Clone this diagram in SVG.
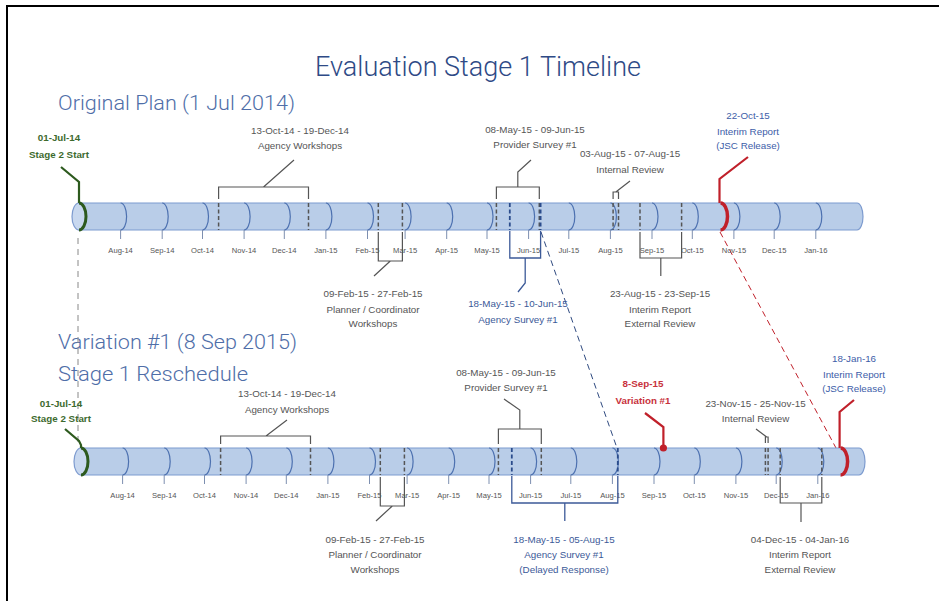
<svg xmlns="http://www.w3.org/2000/svg" width="939" height="601" viewBox="0 0 939 601">
<defs>
<style>
.bar{fill:#b9cde8;stroke:#7d9bcf;stroke-width:1.2}
.cap{fill:#c8d8ef;stroke:#7d9bcf;stroke-width:1.2}
.arc{fill:none;stroke:#4d71b0;stroke-width:1.2}
.tick{stroke:#7d8fb0;stroke-width:1}
.mon{font-family:"Liberation Sans",Arial,sans-serif;font-size:7.6px;fill:#555;text-anchor:middle}
.lbl{font-family:"Liberation Sans",Arial,sans-serif;font-size:9.8px;fill:#555;text-anchor:middle}
.blue{fill:#3c5a98}
.jsc{fill:#3d5da8}
.red{fill:#c8323c;font-weight:bold}
.grn{fill:#3d6a2e;font-weight:bold}
.dg{stroke:#555;stroke-width:1.5;stroke-dasharray:4,2.5;fill:none}
.db{stroke:#2b4c8c;stroke-width:1.8;stroke-dasharray:4,2.5;fill:none}
.br{fill:none;stroke:#555;stroke-width:1.2}
.brb{fill:none;stroke:#3c5a98;stroke-width:1.3}
.rl{fill:none;stroke:#c0202a;stroke-width:2.2}
.ra{fill:none;stroke:#c0202a;stroke-width:3.5}
.gl{fill:none;stroke:#2d5a1e;stroke-width:2.2}
.ga{fill:none;stroke:#2d5a1e;stroke-width:3}
.title{font-family:Roboto,"Liberation Sans",Arial,sans-serif;font-weight:300;fill:#2e4a86}
.sub{font-family:Roboto,"Liberation Sans",Arial,sans-serif;font-weight:300;fill:#4f6ea8}
</style>
</defs>
<rect width="939" height="601" fill="#fff"/>
<g id="frame" stroke="#000" stroke-width="2" fill="none">
<path d="M6,6 H939"/><path d="M7,6 V601"/>
</g>
<g id="titles">
<text class="title" x="478" y="76" font-size="28" text-anchor="middle" textLength="326" lengthAdjust="spacingAndGlyphs">Evaluation Stage 1 Timeline</text>
<text class="sub" x="58" y="110" font-size="21" textLength="237" lengthAdjust="spacingAndGlyphs">Original Plan (1 Jul 2014)</text>
<text class="sub" x="58" y="349" font-size="21" textLength="239" lengthAdjust="spacingAndGlyphs">Variation #1 (8 Sep 2015)</text>
<text class="sub" x="58" y="381" font-size="21" textLength="190" lengthAdjust="spacingAndGlyphs">Stage 1 Reschedule</text>
</g>
<g id="connectors">
<path d="M78,238 V446" stroke="#888" stroke-width="1" stroke-dasharray="6,5" fill="none"/>
<path d="M541,232 L617,448" stroke="#2f4a80" stroke-width="1" stroke-dasharray="6,4" fill="none"/>
<path d="M720,232 L836,448" stroke="#c0202a" stroke-width="1" stroke-dasharray="6,4" fill="none"/>
</g>
<g id="timeline-original">
<path class="bar" d="M79,203 H857 A6,13.5 0 0 1 857,230 H79 Z"/>
<g class="arc">
<path d="M120.6,203 A6,13.5 0 0 1 120.6,230"/><path d="M162.2,203 A6,13.5 0 0 1 162.2,230"/><path d="M202.5,203 A6,13.5 0 0 1 202.5,230"/><path d="M244.1,203 A6,13.5 0 0 1 244.1,230"/><path d="M284.3,203 A6,13.5 0 0 1 284.3,230"/><path d="M325.9,203 A6,13.5 0 0 1 325.9,230"/><path d="M367.5,203 A6,13.5 0 0 1 367.5,230"/><path d="M405.1,203 A6,13.5 0 0 1 405.1,230"/><path d="M446.7,203 A6,13.5 0 0 1 446.7,230"/><path d="M487,203 A6,13.5 0 0 1 487,230"/><path d="M528.6,203 A6,13.5 0 0 1 528.6,230"/><path d="M568.8,203 A6,13.5 0 0 1 568.8,230"/><path d="M610.4,203 A6,13.5 0 0 1 610.4,230"/><path d="M652,203 A6,13.5 0 0 1 652,230"/><path d="M692.3,203 A6,13.5 0 0 1 692.3,230"/><path d="M733.9,203 A6,13.5 0 0 1 733.9,230"/><path d="M774.2,203 A6,13.5 0 0 1 774.2,230"/><path d="M815.8,203 A6,13.5 0 0 1 815.8,230"/>
</g>
<ellipse class="cap" cx="79" cy="216.5" rx="7" ry="13.5"/>
<g class="tick">
<path d="M120.6,230V239M162.2,230V239M202.5,230V239M244.1,230V239M284.3,230V239M325.9,230V239M367.5,230V239M405.1,230V239M446.7,230V239M487,230V239M528.6,230V239M568.8,230V239M610.4,230V239M652,230V239M692.3,230V239M733.9,230V239M774.2,230V239M815.8,230V239"/>
</g>
<g class="mon">
<text x="120.6" y="253">Aug-14</text><text x="162.2" y="253">Sep-14</text><text x="202.5" y="253">Oct-14</text><text x="244.1" y="253">Nov-14</text><text x="284.3" y="253">Dec-14</text><text x="325.9" y="253">Jan-15</text><text x="367.5" y="253">Feb-15</text><text x="405.1" y="253">Mar-15</text><text x="446.7" y="253">Apr-15</text><text x="487" y="253">May-15</text><text x="528.6" y="253">Jun-15</text><text x="568.8" y="253">Jul-15</text><text x="610.4" y="253">Aug-15</text><text x="652" y="253">Sep-15</text><text x="692.3" y="253">Oct-15</text><text x="733.9" y="253">Nov-15</text><text x="774.2" y="253">Dec-15</text><text x="815.8" y="253">Jan-16</text>
</g>
</g>
<g id="o-start">
<path class="ga" d="M79,203 A7,13.5 0 0 1 79,230"/>
<path class="gl" d="M61,167 L79,182 V203"/>
<text class="lbl grn" x="59" y="140.5">01-Jul-14</text>
<text class="lbl grn" x="59" y="157.5">Stage 2 Start</text>
</g>
<g id="o-agency-workshops">
<path class="dg" d="M218.6,203 V230 M308.5,203 V230"/>
<path class="br" d="M218.6,199 V187 H308.5 V199 M263.5,187 L294,160"/>
<text class="lbl" x="300" y="133.5">13-Oct-14 - 19-Dec-14</text>
<text class="lbl" x="300" y="148.5">Agency Workshops</text>
</g>
<g id="o-planner-workshops">
<path class="dg" d="M378.3,203 V230 M402.4,203 V230"/>
<path class="br" d="M378.3,232 V261 H402.4 V232 M390.3,261 L374,276"/>
<text class="lbl" x="373" y="296.5">09-Feb-15 - 27-Feb-15</text>
<text class="lbl" x="373" y="312.5">Planner / Coordinator</text>
<text class="lbl" x="373" y="326.5">Workshops</text>
</g>
<g id="o-provider-survey">
<path class="dg" d="M496.4,203 V230 M539.3,203 V230"/>
<path class="br" d="M496.4,199 V187 H539.3 V199 M517.8,187 V172 L531,160"/>
<text class="lbl" x="535" y="132.5">08-May-15 - 09-Jun-15</text>
<text class="lbl" x="535" y="147.5">Provider Survey #1</text>
</g>
<g id="o-agency-survey">
<path class="db" d="M509.8,203 V230 M540.6,203 V230"/>
<path class="brb" d="M509.8,231 V258 H540.6 V231 M525.2,258 V283 L518,292"/>
<text class="lbl blue" x="518" y="306.5">18-May-15 - 10-Jun-15</text>
<text class="lbl blue" x="518" y="322.5">Agency Survey #1</text>
</g>
<g id="o-internal-review">
<path class="dg" d="M613.1,203 V230 M618.5,203 V230"/>
<path class="br" d="M613.1,199 V192 H618.5 V199 M615.8,192 L630,181"/>
<text class="lbl" x="630" y="157">03-Aug-15 - 07-Aug-15</text>
<text class="lbl" x="630" y="172.5">Internal Review</text>
</g>
<g id="o-external-review">
<path class="dg" d="M640,203 V230 M681.6,203 V230"/>
<path class="br" d="M640,232 V258 H681.6 V232 M660.8,258 V276"/>
<text class="lbl" x="660" y="296.5">23-Aug-15 - 23-Sep-15</text>
<text class="lbl" x="660" y="312.5">Interim Report</text>
<text class="lbl" x="660" y="326.5">External Review</text>
</g>
<g id="o-jsc-release">
<path class="ra" d="M720.5,203 A7,13.5 0 0 1 720.5,230"/>
<path class="rl" d="M719.5,203 V179 L748,157"/>
<text class="lbl jsc" x="748" y="119">22-Oct-15</text>
<text class="lbl jsc" x="748" y="134.5">Interim Report</text>
<text class="lbl jsc" x="748" y="148.5">(JSC Release)</text>
</g>
<g id="timeline-variation">
<path class="bar" d="M81,448 H859 A6,13.5 0 0 1 859,475 H81 Z"/>
<g class="arc">
<path d="M122.6,448 A6,13.5 0 0 1 122.6,475"/><path d="M164.2,448 A6,13.5 0 0 1 164.2,475"/><path d="M204.5,448 A6,13.5 0 0 1 204.5,475"/><path d="M246.1,448 A6,13.5 0 0 1 246.1,475"/><path d="M286.3,448 A6,13.5 0 0 1 286.3,475"/><path d="M327.9,448 A6,13.5 0 0 1 327.9,475"/><path d="M369.5,448 A6,13.5 0 0 1 369.5,475"/><path d="M407.1,448 A6,13.5 0 0 1 407.1,475"/><path d="M448.7,448 A6,13.5 0 0 1 448.7,475"/><path d="M489,448 A6,13.5 0 0 1 489,475"/><path d="M530.6,448 A6,13.5 0 0 1 530.6,475"/><path d="M570.8,448 A6,13.5 0 0 1 570.8,475"/><path d="M612.4,448 A6,13.5 0 0 1 612.4,475"/><path d="M654,448 A6,13.5 0 0 1 654,475"/><path d="M694.3,448 A6,13.5 0 0 1 694.3,475"/><path d="M735.9,448 A6,13.5 0 0 1 735.9,475"/><path d="M776.2,448 A6,13.5 0 0 1 776.2,475"/><path d="M817.8,448 A6,13.5 0 0 1 817.8,475"/>
</g>
<ellipse class="cap" cx="81" cy="461.5" rx="7" ry="13.5"/>
<g class="tick">
<path d="M122.6,475V484M164.2,475V484M204.5,475V484M246.1,475V484M286.3,475V484M327.9,475V484M369.5,475V484M407.1,475V484M448.7,475V484M489,475V484M530.6,475V484M570.8,475V484M612.4,475V484M654,475V484M694.3,475V484M735.9,475V484M776.2,475V484M817.8,475V484"/>
</g>
<g class="mon">
<text x="122.6" y="498">Aug-14</text><text x="164.2" y="498">Sep-14</text><text x="204.5" y="498">Oct-14</text><text x="246.1" y="498">Nov-14</text><text x="286.3" y="498">Dec-14</text><text x="327.9" y="498">Jan-15</text><text x="369.5" y="498">Feb-15</text><text x="407.1" y="498">Mar-15</text><text x="448.7" y="498">Apr-15</text><text x="489" y="498">May-15</text><text x="530.6" y="498">Jun-15</text><text x="570.8" y="498">Jul-15</text><text x="612.4" y="498">Aug-15</text><text x="654" y="498">Sep-15</text><text x="694.3" y="498">Oct-15</text><text x="735.9" y="498">Nov-15</text><text x="776.2" y="498">Dec-15</text><text x="817.8" y="498">Jan-16</text>
</g>
</g>
<g id="v-start">
<path class="ga" d="M81,448 A7,13.5 0 0 1 81,475"/>
<path class="gl" d="M65,429 L79,441 L81,445 V448"/>
<text class="lbl grn" x="61" y="406.5">01-Jul-14</text>
<text class="lbl grn" x="61" y="422">Stage 2 Start</text>
</g>
<g id="v-agency-workshops">
<path class="dg" d="M220.6,448 V475 M310.5,448 V475"/>
<path class="br" d="M220.6,444 V436 H310.5 V444 M266,436 L287,420"/>
<text class="lbl" x="287" y="397">13-Oct-14 - 19-Dec-14</text>
<text class="lbl" x="287" y="412.5">Agency Workshops</text>
</g>
<g id="v-planner-workshops">
<path class="dg" d="M380.3,448 V475 M404.4,448 V475"/>
<path class="br" d="M380.3,477 V506 H404.4 V477 M392.3,506 L376,521"/>
<text class="lbl" x="375" y="542.5">09-Feb-15 - 27-Feb-15</text>
<text class="lbl" x="375" y="557.5">Planner / Coordinator</text>
<text class="lbl" x="375" y="572.5">Workshops</text>
</g>
<g id="v-provider-survey">
<path class="dg" d="M498.4,448 V475 M541.3,448 V475"/>
<path class="br" d="M498.4,444 V429 H541.3 V444 M519.8,429 V410 L504,399"/>
<text class="lbl" x="506" y="375.5">08-May-15 - 09-Jun-15</text>
<text class="lbl" x="506" y="390.5">Provider Survey #1</text>
</g>
<g id="v-agency-survey">
<path class="db" d="M511.8,448 V475 M617.8,448 V475"/>
<path class="brb" d="M511.8,476 V503 H617.8 V476 M564.8,503 V521"/>
<text class="lbl blue" x="564" y="542.5">18-May-15 - 05-Aug-15</text>
<text class="lbl blue" x="564" y="557.5">Agency Survey #1</text>
<text class="lbl blue" x="564" y="572.5">(Delayed Response)</text>
</g>
<g id="v-variation">
<path class="rl" d="M663.4,448 V427 L645,413" stroke-width="1.4"/>
<circle cx="663.4" cy="448" r="3.6" fill="#c0202a"/>
<text class="lbl red" x="643" y="386.5">8-Sep-15</text>
<text class="lbl red" x="643" y="403.5">Variation #1</text>
</g>
<g id="v-internal-review">
<path class="dg" d="M765.4,448 V475 M768.1,448 V475"/>
<path class="br" d="M765.4,443 V437 H768.1 V443 M766.7,437 L756,429"/>
<text class="lbl" x="755.5" y="406.5">23-Nov-15 - 25-Nov-15</text>
<text class="lbl" x="755.5" y="421.5">Internal Review</text>
</g>
<g id="v-external-review">
<path class="dg" d="M780.2,448 V475 M821.8,448 V475"/>
<path class="br" d="M780.2,477 V503 H821.8 V477 M801,503 V522"/>
<text class="lbl" x="800" y="542.5">04-Dec-15 - 04-Jan-16</text>
<text class="lbl" x="800" y="557.5">Interim Report</text>
<text class="lbl" x="800" y="572.5">External Review</text>
</g>
<g id="v-jsc-release">
<path class="ra" d="M840.6,448 A7,13.5 0 0 1 840.6,475"/>
<path class="rl" d="M839.6,448 V412 L854,400"/>
<text class="lbl jsc" x="854" y="361.5">18-Jan-16</text>
<text class="lbl jsc" x="854" y="377.5">Interim Report</text>
<text class="lbl jsc" x="854" y="391.5">(JSC Release)</text>
</g>
</svg>
